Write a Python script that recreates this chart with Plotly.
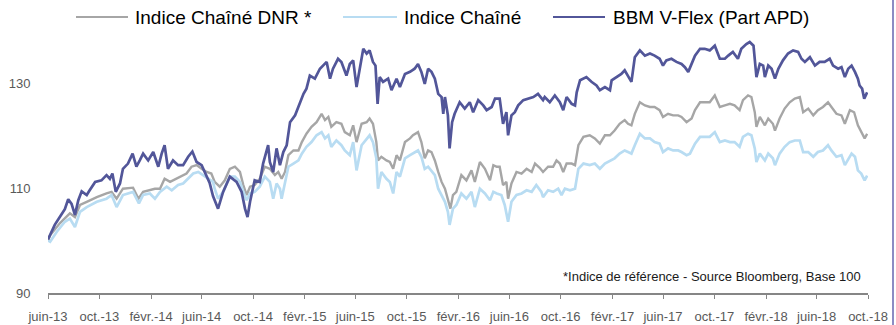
import plotly.graph_objects as go

# --- Series: BBM V-Flex (Part APD) ---
bbm_dates = [
    "2013-06-01", "2013-06-06", "2013-06-17", "2013-06-29", "2013-07-11", "2013-07-19", "2013-07-27",
    "2013-08-04", "2013-08-12", "2013-08-20", "2013-09-01", "2013-09-08", "2013-09-21", "2013-10-06",
    "2013-10-18", "2013-10-26", "2013-11-01", "2013-11-09", "2013-11-19", "2013-11-26", "2013-12-08",
    "2013-12-19", "2013-12-28", "2014-01-05", "2014-01-13", "2014-01-25", "2014-02-06", "2014-02-18",
    "2014-02-26", "2014-03-05", "2014-03-13", "2014-03-25", "2014-04-06", "2014-04-18", "2014-04-30",
    "2014-05-10", "2014-05-20", "2014-06-01", "2014-06-08", "2014-06-20", "2014-06-28", "2014-07-10",
    "2014-07-22", "2014-08-07", "2014-08-23", "2014-09-04", "2014-09-12", "2014-09-18", "2014-09-24",
    "2014-10-05", "2014-10-17", "2014-10-25", "2014-11-06", "2014-11-10", "2014-11-18", "2014-11-26",
    "2014-12-04", "2014-12-12", "2014-12-20", "2014-12-28", "2015-01-09", "2015-01-17", "2015-01-29",
    "2015-02-05", "2015-02-13", "2015-02-25", "2015-03-09", "2015-03-25", "2015-04-02", "2015-04-09",
    "2015-04-21", "2015-04-29", "2015-05-11", "2015-05-19", "2015-05-27", "2015-06-04", "2015-06-12",
    "2015-06-20", "2015-06-28", "2015-07-05", "2015-07-13", "2015-07-19", "2015-07-24", "2015-07-29",
    "2015-08-06", "2015-08-18", "2015-08-26", "2015-09-07", "2015-09-15", "2015-09-27", "2015-10-09",
    "2015-10-20", "2015-10-28", "2015-11-05", "2015-11-13", "2015-11-21", "2015-11-29", "2015-12-07",
    "2015-12-15", "2015-12-23", "2015-12-27", "2015-12-31", "2016-01-07", "2016-01-11", "2016-01-17",
    "2016-01-23", "2016-02-04", "2016-02-16", "2016-02-28", "2016-03-07", "2016-03-19", "2016-03-31",
    "2016-04-08", "2016-04-20", "2016-04-28", "2016-05-09", "2016-05-17", "2016-05-25", "2016-05-29",
    "2016-06-06", "2016-06-14", "2016-06-22", "2016-07-04", "2016-07-16", "2016-07-28", "2016-08-08",
    "2016-08-20", "2016-08-24", "2016-09-05", "2016-09-17", "2016-09-29", "2016-10-07", "2016-10-15",
    "2016-10-27", "2016-11-04", "2016-11-08", "2016-11-16", "2016-12-01", "2016-12-13", "2016-12-25",
    "2017-01-02", "2017-01-14", "2017-01-26", "2017-01-30", "2017-02-10", "2017-02-22", "2017-03-02",
    "2017-03-10", "2017-03-18", "2017-03-26", "2017-04-07", "2017-04-19", "2017-05-01", "2017-05-12",
    "2017-05-24", "2017-06-01", "2017-06-09", "2017-06-21", "2017-07-03", "2017-07-15", "2017-07-23",
    "2017-07-31", "2017-08-08", "2017-08-16", "2017-08-28", "2017-09-08", "2017-09-20", "2017-10-02",
    "2017-10-14", "2017-10-26", "2017-11-03", "2017-11-14", "2017-11-26", "2017-12-04", "2017-12-16",
    "2017-12-24", "2018-01-02", "2018-01-05", "2018-01-09", "2018-01-17", "2018-01-25", "2018-01-29",
    "2018-02-06", "2018-02-14", "2018-02-22", "2018-03-02", "2018-03-13", "2018-03-25", "2018-04-06",
    "2018-04-18", "2018-04-26", "2018-05-04", "2018-05-16", "2018-05-28", "2018-06-08", "2018-06-20",
    "2018-07-02", "2018-07-10", "2018-07-22", "2018-07-30", "2018-08-07", "2018-08-15", "2018-08-23",
    "2018-08-31", "2018-09-07", "2018-09-11", "2018-09-17", "2018-09-22", "2018-09-27", "2018-09-29",
]
bbm_values = [
    100.2, 101.0, 103.0, 104.5, 106.0, 107.9, 107.0,
    104.9, 107.7, 109.4, 108.7, 109.6, 111.2, 111.5,
    112.5, 111.8, 112.8, 109.3, 110.9, 113.7, 114.7,
    116.6, 114.1, 115.3, 116.6, 115.3, 116.9, 114.1,
    116.6, 118.2, 113.7, 115.3, 114.4, 114.4, 116.0,
    117.0, 115.0, 114.4, 113.1, 111.0, 108.5, 106.1,
    109.3, 112.2, 111.2, 109.3, 106.1, 104.5, 107.4,
    111.5, 111.2, 114.7, 118.2, 115.0, 113.1, 117.6,
    114.4, 116.9, 118.2, 122.6, 123.9, 125.5, 128.0,
    129.0, 131.5, 130.9, 132.8, 134.1, 130.9, 132.8,
    134.7, 134.1, 131.5, 133.7, 134.4, 129.3, 133.4,
    136.6, 135.7, 136.3, 134.1, 133.4, 126.1, 131.2,
    130.3, 130.9, 128.7, 130.9, 129.3, 131.8, 132.2,
    132.8, 133.7, 132.2, 129.9, 132.8, 132.2, 130.9,
    128.0, 127.4, 124.2, 127.4, 123.9, 117.6, 122.6,
    124.2, 126.4, 125.2, 126.4, 124.5, 126.8, 125.8,
    124.9, 125.5, 127.1, 127.1, 122.3, 124.5, 120.1,
    123.9, 124.5, 125.8, 126.8, 127.1, 127.4, 128.0,
    126.8, 127.4, 126.4, 127.7, 126.4, 124.9, 127.4,
    126.1, 125.8, 128.3, 130.6, 131.2, 130.3, 129.6,
    128.7, 129.3, 128.7, 130.6, 131.2, 131.8, 132.5,
    131.5, 130.3, 135.0, 136.3, 135.3, 135.7, 135.3,
    134.7, 133.4, 134.4, 134.7, 134.1, 133.7, 133.1,
    132.2, 133.7, 135.3, 136.6, 136.6, 136.3, 137.2,
    134.7, 134.7, 135.3, 136.0, 134.7, 136.6, 137.5,
    137.9, 137.2, 134.1, 131.2, 133.7, 133.4, 131.2,
    133.4, 132.8, 130.9, 132.8, 134.4, 135.7, 136.3,
    136.0, 134.7, 134.1, 135.0, 133.4, 134.1, 134.1,
    134.7, 133.4, 132.8, 133.1, 131.2, 132.8, 133.4,
    132.2, 130.9, 129.6, 129.0, 127.1, 128.0, 128.3,
]

# --- Series: Indice Chaîné DNR * ---
dnr_dates = [
    "2013-06-01", "2013-06-06", "2013-06-29", "2013-07-23", "2013-08-04", "2013-08-16", "2013-09-01",
    "2013-09-25", "2013-10-18", "2013-10-30", "2013-11-11", "2013-11-26", "2013-12-20", "2014-01-02",
    "2014-01-13", "2014-01-29", "2014-02-10", "2014-02-22", "2014-03-05", "2014-03-18", "2014-04-02",
    "2014-04-14", "2014-04-26", "2014-05-08", "2014-05-20", "2014-06-01", "2014-06-13", "2014-06-24",
    "2014-07-02", "2014-07-14", "2014-07-26", "2014-08-07", "2014-08-19", "2014-08-31", "2014-09-08",
    "2014-09-16", "2014-09-24", "2014-10-05", "2014-10-17", "2014-10-29", "2014-11-10", "2014-11-22",
    "2014-11-30", "2014-12-08", "2014-12-16", "2014-12-24", "2015-01-05", "2015-01-17", "2015-01-25",
    "2015-02-05", "2015-02-17", "2015-03-01", "2015-03-13", "2015-03-21", "2015-03-29", "2015-04-05",
    "2015-04-17", "2015-04-29", "2015-05-07", "2015-05-19", "2015-05-27", "2015-06-04", "2015-06-16",
    "2015-06-28", "2015-07-05", "2015-07-13", "2015-07-21", "2015-07-25", "2015-08-02", "2015-08-14",
    "2015-08-22", "2015-08-30", "2015-09-07", "2015-09-15", "2015-09-27", "2015-10-09", "2015-10-16",
    "2015-10-28", "2015-11-05", "2015-11-13", "2015-11-21", "2015-11-29", "2015-12-07", "2015-12-15",
    "2015-12-23", "2015-12-31", "2016-01-07", "2016-01-13", "2016-01-19", "2016-01-27", "2016-02-08",
    "2016-02-20", "2016-03-03", "2016-03-11", "2016-03-23", "2016-04-04", "2016-04-16", "2016-04-24",
    "2016-05-02", "2016-05-09", "2016-05-17", "2016-05-25", "2016-05-29", "2016-06-06", "2016-06-18",
    "2016-06-30", "2016-07-12", "2016-07-24", "2016-08-01", "2016-08-12", "2016-08-20", "2016-09-01",
    "2016-09-13", "2016-09-21", "2016-09-29", "2016-10-07", "2016-10-15", "2016-10-27", "2016-11-04",
    "2016-11-12", "2016-11-24", "2016-12-09", "2016-12-21", "2017-01-02", "2017-01-14", "2017-01-26",
    "2017-02-06", "2017-02-18", "2017-03-02", "2017-03-10", "2017-03-18", "2017-03-26", "2017-04-07",
    "2017-04-19", "2017-05-01", "2017-05-12", "2017-05-24", "2017-06-01", "2017-06-13", "2017-06-25",
    "2017-07-07", "2017-07-15", "2017-07-27", "2017-08-08", "2017-08-16", "2017-08-28", "2017-09-08",
    "2017-09-20", "2017-10-02", "2017-10-14", "2017-10-26", "2017-11-07", "2017-11-18", "2017-11-30",
    "2017-12-08", "2017-12-20", "2017-12-28", "2018-01-05", "2018-01-09", "2018-01-17", "2018-01-29",
    "2018-02-06", "2018-02-17", "2018-02-22", "2018-03-05", "2018-03-17", "2018-03-29", "2018-04-10",
    "2018-04-22", "2018-04-30", "2018-05-12", "2018-05-24", "2018-06-04", "2018-06-16", "2018-06-28",
    "2018-07-06", "2018-07-18", "2018-07-30", "2018-08-07", "2018-08-19", "2018-08-29", "2018-09-07",
    "2018-09-15", "2018-09-23", "2018-09-29",
]
dnr_values = [
    100.0, 101.0, 103.3, 105.2, 104.5, 106.8, 107.4,
    108.3, 109.0, 109.3, 108.0, 109.9, 110.1, 108.0,
    109.3, 109.6, 109.9, 109.9, 111.8, 111.2, 111.8,
    112.2, 112.8, 114.1, 114.4, 113.7, 113.1, 112.8,
    111.2, 110.3, 111.5, 113.7, 114.1, 113.1, 110.6,
    108.7, 110.3, 110.6, 111.8, 114.1, 113.7, 112.5,
    113.1, 111.8, 113.1, 116.3, 117.2, 117.2, 118.8,
    120.4, 121.7, 122.6, 124.2, 123.0, 123.6, 121.7,
    122.6, 122.3, 120.7, 120.1, 122.0, 118.8, 122.3,
    122.6, 123.3, 122.3, 118.8, 115.3, 116.0, 115.3,
    115.0, 113.7, 116.3, 115.3, 118.8, 119.5, 120.1,
    120.7, 118.8, 115.7, 117.2, 116.9, 115.3, 113.1,
    111.2, 109.9, 108.0, 106.1, 108.7, 109.3, 112.5,
    111.5, 113.4, 111.2, 115.0, 113.7, 111.5, 114.4,
    114.1, 114.1, 110.6, 111.2, 108.0, 110.9, 113.1,
    112.8, 113.7, 113.1, 114.7, 113.9, 113.1, 114.1,
    114.1, 115.3, 114.7, 113.1, 114.7, 114.7, 114.4,
    118.2, 119.8, 120.1, 119.5, 118.5, 120.1, 120.1,
    121.0, 122.3, 123.0, 122.3, 122.0, 124.2, 126.4,
    125.8, 125.5, 125.5, 124.9, 123.6, 124.2, 123.9,
    123.9, 123.6, 122.6, 123.3, 124.9, 126.4, 126.4,
    126.4, 127.7, 125.5, 125.8, 126.1, 125.8, 124.9,
    126.8, 127.7, 127.4, 124.5, 121.7, 123.6, 122.0,
    123.3, 122.3, 121.0, 123.3, 125.2, 126.4, 127.1,
    127.4, 124.5, 125.2, 123.9, 124.9, 125.5, 126.4,
    125.5, 124.2, 123.9, 122.3, 124.9, 124.5, 122.0,
    120.7, 119.5, 120.4,
]

# --- Series: Indice Chaîné ---
chaine_dates = [
    "2013-06-01", "2013-06-06", "2013-06-22", "2013-07-11", "2013-07-23", "2013-08-04", "2013-08-16",
    "2013-09-01", "2013-09-25", "2013-10-18", "2013-10-30", "2013-11-11", "2013-11-26", "2013-12-20",
    "2014-01-03", "2014-01-13", "2014-01-29", "2014-02-10", "2014-02-22", "2014-03-10", "2014-03-22",
    "2014-04-06", "2014-04-18", "2014-04-30", "2014-05-12", "2014-05-24", "2014-06-04", "2014-06-16",
    "2014-06-28", "2014-07-02", "2014-07-10", "2014-07-22", "2014-08-07", "2014-08-19", "2014-08-31",
    "2014-09-08", "2014-09-16", "2014-09-24", "2014-10-05", "2014-10-17", "2014-10-29", "2014-11-10",
    "2014-11-18", "2014-11-26", "2014-12-04", "2014-12-08", "2014-12-16", "2014-12-24", "2015-01-05",
    "2015-01-17", "2015-01-25", "2015-02-05", "2015-02-17", "2015-03-01", "2015-03-13", "2015-03-21",
    "2015-03-29", "2015-04-05", "2015-04-17", "2015-04-29", "2015-05-07", "2015-05-19", "2015-05-27",
    "2015-06-04", "2015-06-16", "2015-06-28", "2015-07-05", "2015-07-13", "2015-07-21", "2015-07-25",
    "2015-08-02", "2015-08-14", "2015-08-22", "2015-08-30", "2015-09-07", "2015-09-15", "2015-09-27",
    "2015-10-09", "2015-10-16", "2015-10-28", "2015-11-05", "2015-11-13", "2015-11-21", "2015-11-29",
    "2015-12-07", "2015-12-15", "2015-12-23", "2015-12-31", "2016-01-07", "2016-01-11", "2016-01-19",
    "2016-01-27", "2016-02-08", "2016-02-20", "2016-03-03", "2016-03-11", "2016-03-23", "2016-04-04",
    "2016-04-16", "2016-04-24", "2016-05-02", "2016-05-13", "2016-05-21", "2016-05-29", "2016-06-06",
    "2016-06-18", "2016-06-30", "2016-07-12", "2016-07-24", "2016-08-04", "2016-08-16", "2016-08-20",
    "2016-09-01", "2016-09-13", "2016-09-25", "2016-10-03", "2016-10-11", "2016-10-23", "2016-11-04",
    "2016-11-12", "2016-11-24", "2016-12-09", "2016-12-21", "2017-01-02", "2017-01-14", "2017-01-26",
    "2017-02-06", "2017-02-18", "2017-03-02", "2017-03-10", "2017-03-18", "2017-03-26", "2017-04-07",
    "2017-04-19", "2017-05-01", "2017-05-12", "2017-05-24", "2017-06-01", "2017-06-13", "2017-06-25",
    "2017-07-07", "2017-07-15", "2017-07-27", "2017-08-04", "2017-08-16", "2017-08-28", "2017-09-08",
    "2017-09-20", "2017-10-02", "2017-10-14", "2017-10-26", "2017-11-07", "2017-11-18", "2017-11-30",
    "2017-12-08", "2017-12-20", "2017-12-28", "2018-01-05", "2018-01-09", "2018-01-17", "2018-01-29",
    "2018-02-06", "2018-02-17", "2018-02-22", "2018-03-05", "2018-03-17", "2018-03-29", "2018-04-10",
    "2018-04-22", "2018-04-30", "2018-05-12", "2018-05-24", "2018-06-04", "2018-06-16", "2018-06-28",
    "2018-07-06", "2018-07-18", "2018-07-30", "2018-08-07", "2018-08-23", "2018-08-31", "2018-09-07",
    "2018-09-15", "2018-09-23", "2018-09-29",
]
chaine_values = [
    100.0, 99.8, 101.7, 103.6, 104.2, 102.6, 105.5,
    106.4, 107.4, 108.0, 108.7, 106.4, 108.7, 109.3,
    107.1, 108.7, 109.0, 108.0, 109.3, 110.3, 109.6,
    110.6, 110.9, 111.8, 112.8, 113.1, 112.5, 111.8,
    111.2, 109.9, 108.0, 109.3, 112.2, 112.2, 111.2,
    109.3, 107.7, 109.0, 109.3, 110.3, 112.2, 111.2,
    108.0, 110.9, 109.9, 108.0, 111.2, 114.1, 114.7,
    115.3, 116.6, 117.9, 118.8, 120.1, 120.7, 119.5,
    120.1, 117.9, 119.1, 118.2, 117.2, 116.3, 118.8,
    113.4, 118.2, 119.5, 120.1, 118.8, 115.7, 109.9,
    113.1, 111.8, 111.2, 109.0, 113.1, 112.2, 115.7,
    116.3, 116.6, 117.2, 116.0, 113.7, 114.1, 113.4,
    112.5, 109.9, 108.7, 107.4, 105.5, 103.0, 106.1,
    106.8, 109.0, 108.0, 109.3, 106.4, 109.9, 109.0,
    107.7, 109.3, 109.0, 108.7, 106.8, 103.6, 107.4,
    108.7, 109.0, 109.6, 109.3, 110.6, 109.3, 108.3,
    109.6, 109.3, 109.9, 108.7, 109.9, 109.6, 109.9,
    113.7, 114.7, 114.4, 114.7, 113.7, 114.7, 115.3,
    115.7, 116.6, 117.2, 116.9, 116.6, 118.2, 120.4,
    119.5, 119.5, 118.8, 118.5, 116.9, 117.6, 117.2,
    117.2, 116.9, 116.3, 116.6, 118.5, 119.8, 119.8,
    119.8, 120.7, 118.8, 119.1, 118.8, 118.8, 117.9,
    119.8, 120.4, 120.1, 117.6, 115.0, 116.6, 115.3,
    116.6, 115.7, 114.4, 116.6, 117.9, 118.8, 119.1,
    119.1, 116.9, 116.9, 116.0, 116.9, 117.2, 118.2,
    117.2, 116.0, 116.3, 114.4, 116.6, 116.0, 113.4,
    112.8, 111.5, 112.4,
]

# --- Axis ticks ---
tick_dates = [
    "2013-06-01", "2013-10-01", "2014-02-01", "2014-06-01", "2014-10-01", "2015-02-01",
    "2015-06-01", "2015-10-01", "2016-02-01", "2016-06-01", "2016-10-01", "2017-02-01",
    "2017-06-01", "2017-10-01", "2018-02-01", "2018-06-01", "2018-10-01",
]
tick_labels = [
    "juin-13", "oct.-13", "févr.-14", "juin-14", "oct.-14", "févr.-15",
    "juin-15", "oct.-15", "févr.-16", "juin-16", "oct.-16", "févr.-17",
    "juin-17", "oct.-17", "févr.-18", "juin-18", "oct.-18",
]
y_ticks = [90, 110, 130]

series_names = ["Indice Chaîné DNR *", "Indice Chaîné", "BBM V-Flex (Part APD)"]
footnote = "*Indice de référence - Source Bloomberg, Base 100"

GRAY = "#A6A6A6"
LIGHT_BLUE = "#B8DCF2"
PURPLE = "#525699"
FONT = "Liberation Sans, Arial, sans-serif"

fig = go.Figure()
fig.add_trace(go.Scatter(x=dnr_dates, y=dnr_values, mode="lines", name=series_names[0],
                         line=dict(color=GRAY, width=2.4)))
fig.add_trace(go.Scatter(x=chaine_dates, y=chaine_values, mode="lines", name=series_names[1],
                         line=dict(color=LIGHT_BLUE, width=2.7)))
fig.add_trace(go.Scatter(x=bbm_dates, y=bbm_values, mode="lines", name=series_names[2],
                         line=dict(color=PURPLE, width=2.7)))

W, H = 896, 325
ML, MR, MT, MB = 48, 28, 31, 32
PW, PH = W - ML - MR, H - MT - MB


def px_x(px):
    return (px - ML) / PW


def px_y(py):
    return (H - MB - py) / PH


# Legend drawn as line samples + labels across the top
shapes = []
annotations = []
legend_items = [
    (series_names[0], GRAY, 76, 128, 133),
    (series_names[1], LIGHT_BLUE, 343, 397, 402),
    (series_names[2], PURPLE, 553, 605, 611),
]
for name, color, lx0, lx1, tx in legend_items:
    shapes.append(dict(type="line", xref="paper", yref="paper",
                       x0=px_x(lx0), x1=px_x(lx1), y0=px_y(17), y1=px_y(17),
                       line=dict(color=color, width=2)))
    annotations.append(dict(text=name, xref="paper", yref="paper", x=px_x(tx), y=px_y(17),
                            xanchor="left", yanchor="middle", showarrow=False,
                            font=dict(family=FONT, size=19, color="#000000")))

annotations.append(dict(text=footnote, xref="paper", yref="paper", x=px_x(863), y=px_y(276),
                        xanchor="right", yanchor="middle", showarrow=False,
                        font=dict(family=FONT, size=13, color="#1A1A1A")))

# Frame line on the right edge
shapes.append(dict(type="line", xref="paper", yref="paper",
                   x0=px_x(893), x1=px_x(893), y0=px_y(325), y1=px_y(0),
                   line=dict(color="#8C8CC4", width=2)))

fig.update_layout(
    width=W, height=H,
    margin=dict(l=ML, r=MR, t=MT, b=MB, pad=0, autoexpand=False),
    paper_bgcolor="white", plot_bgcolor="white",
    showlegend=False,
    shapes=shapes,
    annotations=annotations,
    font=dict(family=FONT, size=13, color="#595959"),
    xaxis=dict(
        type="date",
        automargin=False,
        range=["2013-06-01", "2018-10-01"],
        tickmode="array", tickvals=tick_dates, ticktext=tick_labels,
        tickangle=0,
        showgrid=False, zeroline=False,
        showline=True, linecolor="#868686", linewidth=1.5,
        ticks="outside", ticklen=4, tickwidth=1.2, tickcolor="#868686",
        ticklabelstandoff=7,
        tickfont=dict(family=FONT, size=13, color="#595959"),
    ),
    yaxis=dict(
        automargin=False,
        range=[90, 140],
        tickmode="array", tickvals=y_ticks,
        showgrid=False, zeroline=False, showline=False,
        ticks="outside", ticklen=14, tickcolor="rgba(0,0,0,0)",
        tickfont=dict(family=FONT, size=13, color="#595959"),
    ),
)

fig.write_html("out.html")
